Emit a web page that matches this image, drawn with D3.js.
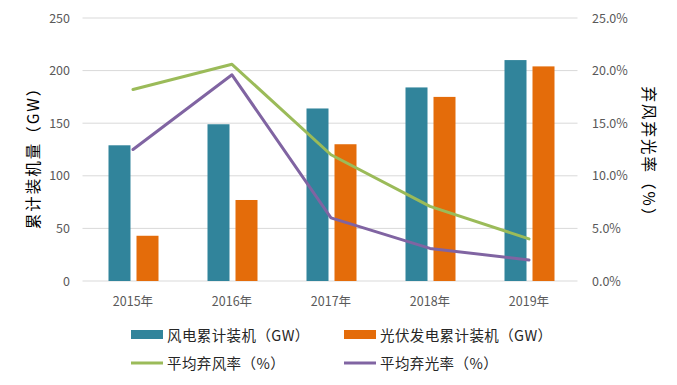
<!DOCTYPE html>
<html>
<head>
<meta charset="utf-8">
<script src="https://cdn.jsdelivr.net/npm/d3@7"></script>
<style>
  body { margin: 0; background: #fff; }
  svg { font-family: "Noto Sans CJK SC", "Noto Sans", sans-serif; }
</style>
</head>
<body>
<svg id="chart" width="677" height="385"></svg>
<script>
// data
var years = ["2015年", "2016年", "2017年", "2018年", "2019年"];
var windCap = [129, 149, 164, 184, 210];
var solarCap = [43, 77, 130, 175, 204];
var windCurtail = [18.2, 20.6, 12.0, 7.1, 4.0];
var solarCurtail = [12.5, 19.6, 6.0, 3.1, 2.0];
var leftTicks = [0, 50, 100, 150, 200, 250];
var rightTicks = [0, 5, 10, 15, 20, 25];

var colors = {
  wind: "#31849B",
  solar: "#E46C0A",
  windLine: "#9BBB59",
  solarLine: "#8064A2"
};

var svg = d3.select("#chart");
// plot area edges
var plotLeft = 84.5, plotRight = 579.5, plotTop = 18, plotBottom = 281;

var x = d3.scaleBand().domain(years).range([plotLeft, plotRight]);
var yL = d3.scaleLinear().domain([0, 250]).range([plotBottom, plotTop]);
var yR = d3.scaleLinear().domain([0, 25]).range([plotBottom, plotTop]);

// gridlines
svg.append("g").selectAll("line")
  .data(leftTicks)
  .join("line")
  .attr("x1", plotLeft - 2).attr("x2", plotRight - 2)
  .attr("y1", d => yL(d)).attr("y2", d => yL(d))
  .attr("stroke", "#D9D9D9").attr("stroke-width", 1);

// left axis labels
svg.append("g").selectAll("text")
  .data(leftTicks)
  .join("text")
  .attr("x", 70).attr("y", d => yL(d) + 4.5)
  .attr("text-anchor", "end")
  .attr("font-size", 12.5).attr("fill", "#595959")
  .text(d => d);

// right axis labels
svg.append("g").selectAll("text")
  .data(rightTicks)
  .join("text")
  .attr("x", 592).attr("y", d => yR(d) + 4.5)
  .attr("font-size", 12.5).attr("fill", "#595959")
  .text(d => d.toFixed(1) + "%");

// category labels
svg.append("g").selectAll("text")
  .data(years)
  .join("text")
  .attr("x", d => x(d) + x.bandwidth() / 2 - 1)
  .attr("y", 306)
  .attr("text-anchor", "middle")
  .attr("font-size", 12.5).attr("fill", "#595959")
  .text(d => d);

// bars
var barW = 22, gap = 6;
var bars = svg.append("g");
bars.selectAll(".wind")
  .data(windCap)
  .join("rect")
  .attr("class", "wind")
  .attr("x", (d, i) => x(years[i]) + x.bandwidth() / 2 - gap / 2 - barW - 0.5)
  .attr("y", d => yL(d))
  .attr("width", barW)
  .attr("height", d => plotBottom - yL(d))
  .attr("fill", colors.wind);
bars.selectAll(".solar")
  .data(solarCap)
  .join("rect")
  .attr("class", "solar")
  .attr("x", (d, i) => x(years[i]) + x.bandwidth() / 2 + gap / 2 - 0.5)
  .attr("y", d => yL(d))
  .attr("width", barW)
  .attr("height", d => plotBottom - yL(d))
  .attr("fill", colors.solar);

// curtailment lines
var line = d3.line()
  .x((d, i) => x(years[i]) + x.bandwidth() / 2 - 1)
  .y(d => yR(d));

svg.append("path")
  .attr("d", line(windCurtail))
  .attr("fill", "none")
  .attr("stroke", colors.windLine)
  .attr("stroke-width", 3)
  .attr("stroke-linejoin", "round")
  .attr("stroke-linecap", "round");

svg.append("path")
  .attr("d", line(solarCurtail))
  .attr("fill", "none")
  .attr("stroke", colors.solarLine)
  .attr("stroke-width", 3)
  .attr("stroke-linejoin", "round")
  .attr("stroke-linecap", "round");

// axis titles
svg.append("text")
  .attr("transform", "translate(39,154) rotate(-90)")
  .attr("text-anchor", "middle")
  .attr("font-size", 15.5).attr("letter-spacing", 2).attr("fill", "#000")
  .text("累计装机量（GW）");

svg.append("text")
  .attr("transform", "translate(643,156) rotate(90)")
  .attr("text-anchor", "middle")
  .attr("font-size", 15.5).attr("letter-spacing", 2).attr("fill", "#000")
  .text("弃风弃光率（%）");

// legend
var legendItems = [
  { label: "风电累计装机（GW）", color: colors.wind, type: "bar", lx: 131, ly: 335 },
  { label: "光伏发电累计装机（GW）", color: colors.solar, type: "bar", lx: 344, ly: 335 },
  { label: "平均弃风率（%）", color: colors.windLine, type: "line", lx: 131, ly: 363 },
  { label: "平均弃光率（%）", color: colors.solarLine, type: "line", lx: 344, ly: 363 }
];

var legend = svg.append("g").selectAll("g")
  .data(legendItems)
  .join("g")
  .attr("transform", d => "translate(" + d.lx + "," + d.ly + ")");

legend.filter(d => d.type === "bar")
  .append("rect")
  .attr("x", 0).attr("y", -5)
  .attr("width", 32).attr("height", 9)
  .attr("fill", d => d.color);

legend.filter(d => d.type === "line")
  .append("line")
  .attr("x1", 0).attr("x2", 32)
  .attr("y1", 0).attr("y2", 0)
  .attr("stroke", d => d.color)
  .attr("stroke-width", 3);

legend.append("text")
  .attr("x", 36).attr("y", 5.5)
  .attr("font-size", 14.5).attr("letter-spacing", 0.4).attr("fill", "#262626")
  .text(d => d.label);
</script>
</body>
</html>
